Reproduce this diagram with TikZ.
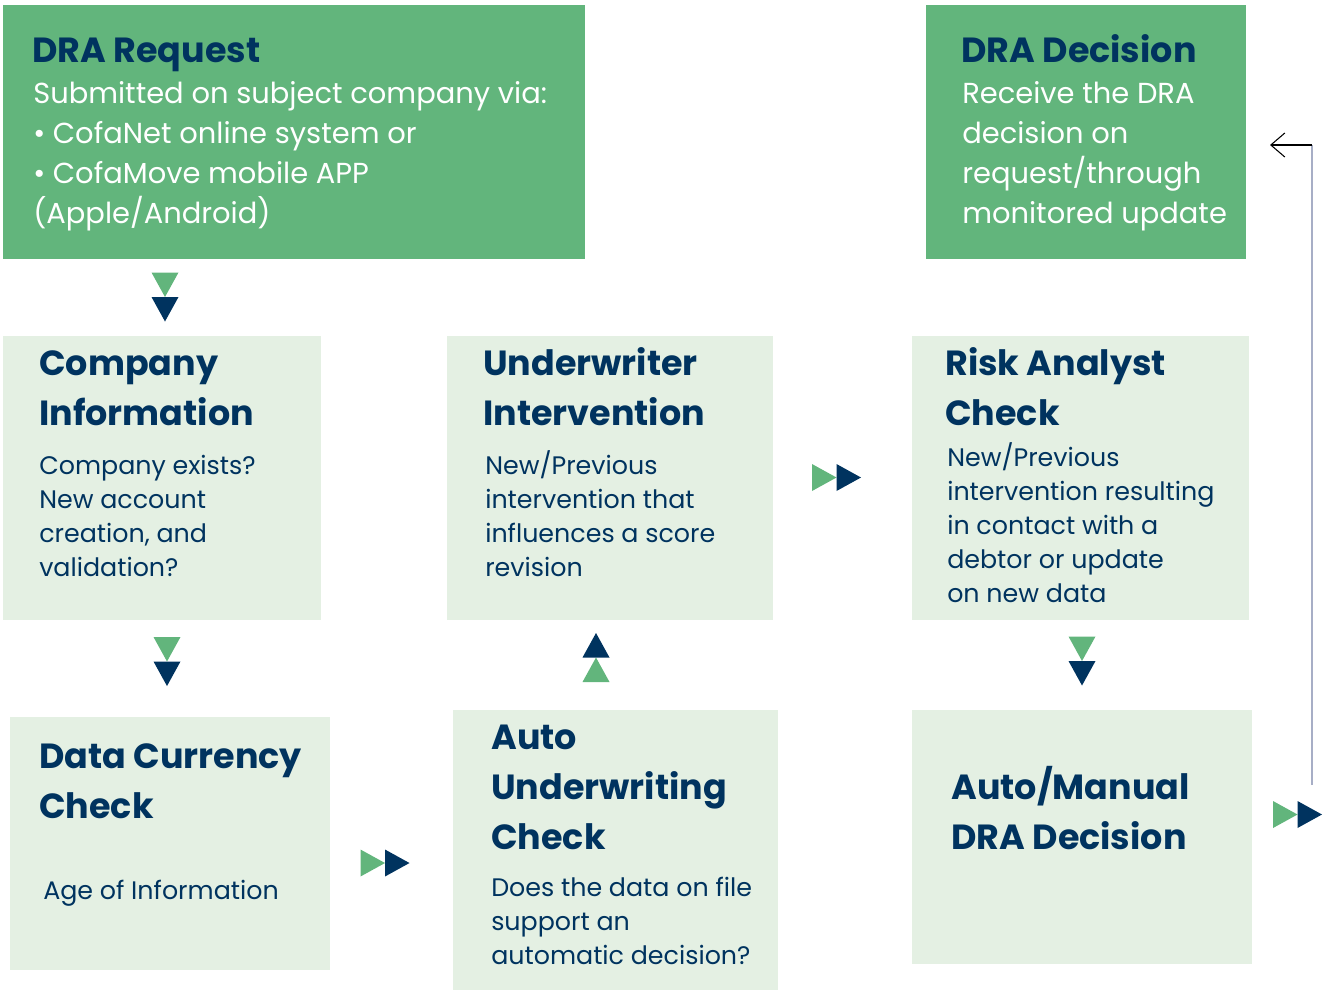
\documentclass[tikz,border=0pt]{standalone}
\usepackage{fontspec}
\setmainfont{Poppins}
\usetikzlibrary{positioning,calc,arrows.meta}
\definecolor{dragreen}{HTML}{62B57C}
\definecolor{dralight}{HTML}{E4F0E3}
\definecolor{dranavy}{HTML}{00335F}
\definecolor{dragrey}{HTML}{A7AEC6}
\newdimen\px \px=0.75pt
% pair of arrow triangles: centre x, centre y, rotation
\newcommand{\pair}[3]{%
\begin{scope}[shift={(#1,#2)},rotate=#3]
\fill[dragreen] (-24.5,-13.5)--(0,0)--(-24.5,13.5)--cycle;
\fill[dranavy] (0,-13.5)--(24.5,0)--(0,13.5)--cycle;
\end{scope}}
% same top for every first line
\newcommand{\tp}{\vphantom{/(Ald}}
\tikzset{
  box/.style={draw=none, anchor=north west, inner sep=0pt},
  darkbox/.style={box, fill=dragreen},
  lightbox/.style={box, fill=dralight},
  title/.style={anchor=north west, inner sep=0pt, align=left, text=dranavy,
    font=\fontsize{26.2}{37.5}\selectfont\bfseries},
  darkbody/.style={anchor=north west, inner sep=0pt, align=left, text=white,
    font=\fontsize{21.7}{30}\selectfont},
  lightbody/.style={anchor=north west, inner sep=0pt, align=left, text=dranavy,
    font=\fontsize{19}{25.5}\selectfont}
}
\begin{document}
\begin{tikzpicture}[x=0.75pt,y=-0.75pt]
\useasboundingbox (0,0) rectangle (1327,990);

% boxes
\node[darkbox, minimum width=582\px, minimum height=254\px] (req) at (3,5) {};
\node[darkbox, minimum width=320\px, minimum height=254\px] (dec) at (926,5) {};
\node[lightbox, minimum width=318\px, minimum height=284\px] (comp) at (3,336) {};
\node[lightbox, minimum width=326\px, minimum height=284\px] (under) at (447,336) {};
\node[lightbox, minimum width=337\px, minimum height=284\px] (risk) at (912,336) {};
\node[lightbox, minimum width=320\px, minimum height=253\px] (curr) at (10,717) {};
\node[lightbox, minimum width=325\px, minimum height=280\px] (auto) at (453,710) {};
\node[lightbox, minimum width=340\px, minimum height=254\px] (man) at (912,710) {};

% texts
\node[title] (reqT) at (32,29) {\tp DRA Request};
\node[darkbody] (reqB) at (33,76) {\tp Submitted on subject company via:\\
  \textbullet\ CofaNet online system or\\
  \textbullet\ CofaMove mobile APP\\
  (Apple/Android)};
\node[title] (decT) at (961,29) {\tp DRA Decision};
\node[darkbody] (decB) at (962,76) {\tp Receive the DRA\\ decision on\\
  request/through\\ monitored update};
\node[title] (compT) at (39,342) {\tp Company\\ Information};
\node[lightbody] (compB) at (39,450) {\tp Company exists?\\ New account\\
  creation, and\\ validation?};
\node[title] (underT) at (483,342) {\tp Underwriter\\ Intervention};
\node[lightbody] (underB) at (485,450) {\tp New/Previous\\ intervention that\\
  influences a score\\ revision};
\node[title] (riskT) at (945,342) {\tp Risk Analyst\\ Check};
\node[lightbody] (riskB) at (947,442) {\tp New/Previous\\ intervention resulting\\
  in contact with a\\ debtor or update\\ on new data};
\node[title] (currT) at (39,735) {\tp Data Currency\\ Check};
\node[lightbody] (currB) at (43,875) {\tp Age of Information};
\node[title] (autoT) at (491,716) {\tp Auto\\ Underwriting\\ Check};
\node[lightbody] (autoB) at (491,872) {\tp Does the data on file\\ support an\\
  automatic decision?};
\node[title] (manT) at (951,766) {\tp Auto/Manual\\ DRA Decision};

% arrow markers
\pair{165}{297}{-90}
\pair{167}{661.5}{-90}
\pair{1082}{661}{-90}
\pair{596}{657.5}{90}
\pair{836.5}{477.5}{0}
\pair{385}{863}{0}
\pair{1297.5}{814.5}{0}

% feedback line
\coordinate (lineS) at (1312,785);
\coordinate (lineC) at (1312,145);
\coordinate (lineE) at (1270,145);
\draw[dragrey, line width=1.3pt] (lineS) -- (lineC);
\draw[black, line width=0.8pt, -{Straight Barb[length=10.5pt,width=18pt]}] (lineC) -- (lineE);
\end{tikzpicture}
\end{document}
